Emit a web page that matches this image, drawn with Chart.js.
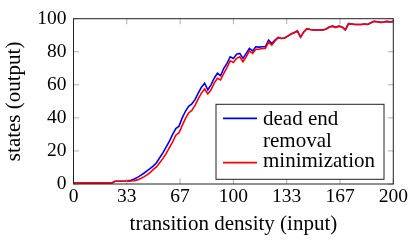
<!DOCTYPE html>
<html>
<head>
<meta charset="utf-8">
<script src="https://cdn.jsdelivr.net/npm/chart.js@4"></script>
<style>
  html, body { margin: 0; padding: 0; background: #fff; }
  canvas { display: block; }
</style>
</head>
<body>
<canvas id="densityChart" width="415" height="242"></canvas>
<script>
// transition density (input)
const xValues = [
  0, 2, 4, 6, 8, 10, 12, 14, 16, 18, 20, 22, 24, 26, 28, 30, 32, 34, 36, 38,
  40, 42, 44, 46, 48, 50, 52, 54, 56, 58, 60, 62, 64, 66, 68, 70, 72, 74, 76, 78,
  80, 82, 84, 86, 88, 90, 92, 94, 96, 98, 100, 102, 104, 106, 108, 110, 112, 114, 116, 118,
  120, 122, 124, 126, 128, 130, 132, 134, 136, 138, 140, 142, 144, 146, 148, 150, 152, 154, 156, 158,
  160, 162, 164, 166, 168, 170, 172, 174, 176, 178, 180, 182, 184, 186, 188, 190, 192, 194, 196, 198,
  200
];

// states (output)
const deadEndRemoval = [
  0.7, 0.7, 0.7, 0.7, 0.7, 0.7, 0.7, 0.7, 0.7, 0.7, 0.7, 0.7, 0.7, 1.7, 1.7, 1.7, 1.7, 2.0, 2.3, 3.0,
  4.0, 5.2, 6.5, 8.0, 9.5, 11.0, 13.0, 16.0, 19.0, 22.5, 26.0, 30.0, 33.5, 35.0, 40.0, 44.0, 47.0, 48.5, 51.0, 55.0,
  58.5, 61.0, 57.0, 60.0, 64.0, 67.0, 65.5, 70.0, 73.0, 77.0, 76.0, 78.5, 79.0, 76.0, 79.0, 82.0, 80.5, 83.0, 82.8, 83.0,
  83.0, 87.0, 85.0, 87.0, 88.7, 88.0, 88.3, 89.5, 90.7, 91.5, 92.6, 88.8, 92.0, 94.0, 93.5, 93.2, 93.2, 93.2, 93.2, 93.8,
  95.0, 95.5, 94.8, 95.5, 95.0, 93.2, 97.0, 96.8, 96.5, 96.5, 96.5, 96.8, 96.5, 97.5, 98.4, 98.2, 97.8, 98.0, 98.4, 98.0,
  98.4
];

const minimization = [
  0.7, 0.7, 0.7, 0.7, 0.7, 0.7, 0.7, 0.7, 0.7, 0.7, 0.7, 0.7, 0.7, 1.7, 1.7, 1.7, 1.7, 1.7, 1.8, 2.0,
  2.5, 3.3, 4.3, 5.5, 7.0, 8.8, 10.5, 13.0, 15.5, 18.5, 22.0, 25.5, 29.5, 31.0, 35.5, 39.5, 43.0, 44.5, 47.5, 51.5,
  55.0, 57.5, 54.5, 57.0, 61.0, 64.0, 63.0, 67.0, 70.5, 74.5, 73.5, 76.0, 77.0, 74.0, 77.0, 80.5, 79.0, 81.5, 81.5, 82.0,
  82.0, 85.8, 84.0, 86.5, 88.5, 88.0, 88.3, 89.5, 90.7, 91.5, 92.6, 88.8, 92.0, 94.0, 93.5, 93.2, 93.2, 93.2, 93.2, 93.8,
  95.0, 95.5, 94.8, 95.5, 95.0, 93.2, 97.0, 96.8, 96.5, 96.5, 96.5, 96.8, 96.5, 97.5, 98.4, 98.2, 97.8, 98.0, 98.4, 98.0,
  98.4
];

const xTickValues = [0, 100 / 3, 200 / 3, 100, 400 / 3, 500 / 3, 200];
const xTickLabels = ['0', '33', '67', '100', '133', '167', '200'];
const yTickValues = [0, 20, 40, 60, 80, 100];

const serif = "'Liberation Serif', 'Times New Roman', serif";

// frame with inward tick marks on all four sides, like pgfplots
const framePlugin = {
  id: 'frame',
  afterDatasetsDraw(chart) {
    const { ctx, chartArea: a, scales } = chart;
    const len = 5.5;
    ctx.save();
    ctx.strokeStyle = '#9a9a9a';
    ctx.lineWidth = 0.8;
    ctx.beginPath();
    xTickValues.forEach(v => {
      const px = scales.x.getPixelForValue(v);
      ctx.moveTo(px, a.bottom); ctx.lineTo(px, a.bottom - len);
      ctx.moveTo(px, a.top); ctx.lineTo(px, a.top + len);
    });
    yTickValues.forEach(v => {
      const py = scales.y.getPixelForValue(v);
      ctx.moveTo(a.left, py); ctx.lineTo(a.left + len, py);
      ctx.moveTo(a.right, py); ctx.lineTo(a.right - len, py);
    });
    ctx.stroke();
    ctx.strokeStyle = '#222';
    ctx.lineWidth = 1;
    ctx.strokeRect(a.left, a.top, a.right - a.left, a.bottom - a.top);
    ctx.restore();
  }
};

// boxed legend with a wrapped first label
const legendPlugin = {
  id: 'boxLegend',
  afterDraw(chart) {
    const { ctx, chartArea: a } = chart;
    const w = 168, h = 75;
    const right = a.right - 9.3, bottom = a.bottom - 4.7;
    const left = right - w, top = bottom - h;
    ctx.save();
    ctx.fillStyle = '#fff';
    ctx.fillRect(left, top, w, h);
    ctx.strokeStyle = '#222';
    ctx.lineWidth = 1;
    ctx.strokeRect(left, top, w, h);

    const entries = [
      { lines: ['dead end', 'removal'], color: '#0000ff', lineY: 14, textY: [20.7, 42.4] },
      { lines: ['minimization'], color: '#ff0000', lineY: 58.4, textY: [62.4] }
    ];
    ctx.font = 'normal normal 21px ' + serif;
    ctx.textBaseline = 'alphabetic';
    ctx.textAlign = 'left';
    entries.forEach(e => {
      ctx.strokeStyle = e.color;
      ctx.lineWidth = 1.7;
      ctx.beginPath();
      ctx.moveTo(left + 7, top + e.lineY);
      ctx.lineTo(left + 41, top + e.lineY);
      ctx.stroke();
      ctx.fillStyle = '#000';
      e.lines.forEach((t, i) => ctx.fillText(t, left + 47, top + e.textY[i]));
    });
    ctx.restore();
  }
};

const ctx = document.getElementById('densityChart').getContext('2d');
new Chart(ctx, {
  type: 'line',
  data: {
    datasets: [{
      label: 'dead end removal',
      data: xValues.map((x, i) => ({ x: x, y: deadEndRemoval[i] })),
      borderColor: '#0000ff',
      order: 1
    }, {
      label: 'minimization',
      data: xValues.map((x, i) => ({ x: x, y: minimization[i] })),
      borderColor: '#ff0000',
      order: 0
    }]
  },
  options: {
    responsive: false,
    animation: false,
    devicePixelRatio: 1,
    layout: { padding: { left: 0, right: 21.7, top: 12.3, bottom: 0 } },
    elements: {
      point: { radius: 0 },
      line: { borderWidth: 1.6, tension: 0, fill: false }
    },
    plugins: {
      legend: { display: false },
      tooltip: { enabled: false }
    },
    scales: {
      x: {
        type: 'linear',
        min: 0,
        max: 200,
        afterBuildTicks: scale => { scale.ticks = xTickValues.map(v => ({ value: v })); },
        afterFit: scale => { scale.height = 58; },
        grid: { display: false, drawTicks: false },
        border: { display: false },
        ticks: {
          autoSkip: false,
          maxRotation: 0,
          padding: 1,
          color: '#000',
          font: { family: serif, size: 19.5 },
          callback: (v, i) => xTickLabels[i]
        },
        title: {
          display: true,
          text: 'transition density (input)',
          color: '#000',
          font: { family: serif, size: 21 },
          padding: { top: 0, bottom: 5 }
        }
      },
      y: {
        min: 0,
        max: 100,
        afterBuildTicks: scale => { scale.ticks = yTickValues.map(v => ({ value: v })); },
        afterFit: scale => { scale.width = 73.5; },
        grid: { display: false, drawTicks: false },
        border: { display: false },
        ticks: {
          padding: 7,
          color: '#000',
          font: { family: serif, size: 19.5 }
        },
        title: {
          display: true,
          text: 'states (output)',
          color: '#000',
          font: { family: serif, size: 21 },
          padding: { top: 1.4, bottom: 0 }
        }
      }
    }
  },
  plugins: [framePlugin, legendPlugin]
});
</script>
</body>
</html>
